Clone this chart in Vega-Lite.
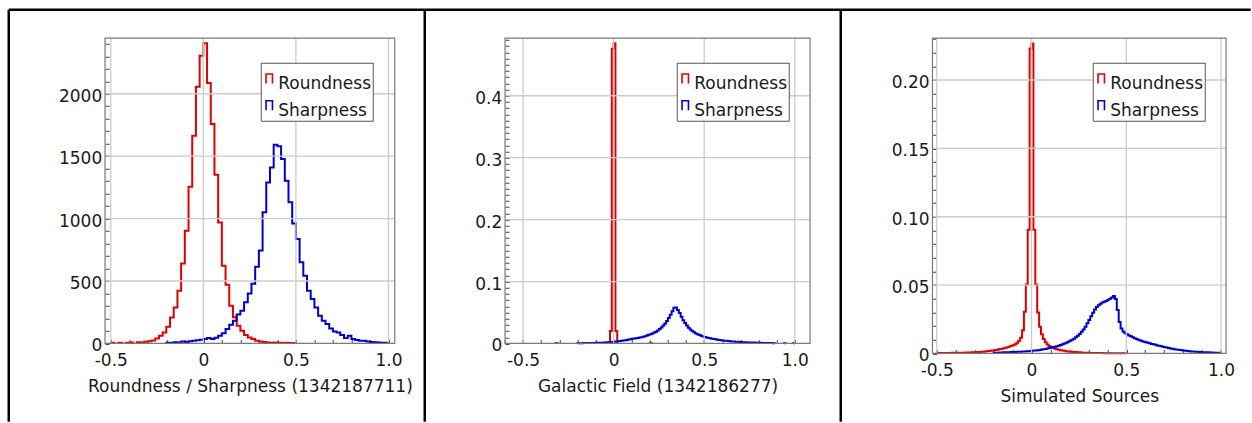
{
  "$schema": "https://vega.github.io/schema/vega-lite/v6.json",
  "background": "white",
  "padding": {"left": 6.75, "top": 7.75, "right": 0, "bottom": 0},
  "bounds": "flush",
  "spacing": 0,
  "resolve": {"scale": {"color": "independent"}, "legend": {"color": "independent"}},
  "config": {
    "font": "DejaVu Sans",
    "axis": {
      "labelFont": "DejaVu Sans", "labelFontSize": 17, "labelColor": "#1a1a1a",
      "titleFont": "DejaVu Sans", "titleFontSize": 17, "titleFontWeight": "normal", "titleColor": "#1a1a1a",
      "tickColor": "#444444", "tickWidth": 1, "tickSize": -4,
      "labelOverlap": false, "labelFlush": false, "domain": false, "grid": false, "zindex": 1
    },
    "legend": {
      "orient": "none", "legendX": 252, "legendY": 53,
      "titleFontSize": 4, "titlePadding": 1,
      "fillColor": "white", "strokeColor": "#555555", "padding": 1.5, "rowPadding": 3.7,
      "labelFont": "DejaVu Sans", "labelFontSize": 17, "labelColor": "#1a1a1a", "labelOffset": 0.5,
      "symbolType": "M-0.8,1.425V-0.925H0.8V1.425", "symbolSize": 64, "symbolStrokeWidth": 1.6,
      "symbolOffset": -1.5, "symbolFillColor": "transparent"
    }
  },
  "hconcat": [
    {
      "width": 416, "height": 412,
      "view": {"stroke": "#000000", "strokeWidth": 2.5, "strokeDash": [416, 828, 412, 0]},
      "resolve": {"axis": {"x": "independent", "y": "independent"}},
      "data": {"values": [
        {"s":"Roundness","g":1,"x":-0.5,"y":0},{"s":"Roundness","g":1,"x":-0.5,"y":5},{"s":"Roundness","g":1,"x":-0.48,"y":0},
        {"s":"Roundness","g":2,"x":-0.46,"y":0},{"s":"Roundness","g":2,"x":-0.46,"y":6},{"s":"Roundness","g":2,"x":-0.44,"y":0},
        {"s":"Roundness","g":3,"x":-0.42,"y":0},{"s":"Roundness","g":3,"x":-0.42,"y":5},{"s":"Roundness","g":3,"x":-0.4,"y":8},{"s":"Roundness","g":3,"x":-0.38,"y":0},
        {"s":"Roundness","g":4,"x":-0.36,"y":0},{"s":"Roundness","g":4,"x":-0.36,"y":10},{"s":"Roundness","g":4,"x":-0.34,"y":8},
        {"s":"Roundness","g":4,"x":-0.32,"y":14},{"s":"Roundness","g":4,"x":-0.3,"y":17},{"s":"Roundness","g":4,"x":-0.28,"y":24},
        {"s":"Roundness","g":4,"x":-0.26,"y":40},{"s":"Roundness","g":4,"x":-0.24,"y":62},{"s":"Roundness","g":4,"x":-0.22,"y":88},
        {"s":"Roundness","g":4,"x":-0.2,"y":134},{"s":"Roundness","g":4,"x":-0.18,"y":208},{"s":"Roundness","g":4,"x":-0.16,"y":288},
        {"s":"Roundness","g":4,"x":-0.14,"y":422},{"s":"Roundness","g":4,"x":-0.12,"y":641},{"s":"Roundness","g":4,"x":-0.1,"y":903},
        {"s":"Roundness","g":4,"x":-0.08,"y":1255},{"s":"Roundness","g":4,"x":-0.06,"y":1664},{"s":"Roundness","g":4,"x":-0.04,"y":2056},
        {"s":"Roundness","g":4,"x":-0.02,"y":2305},{"s":"Roundness","g":4,"x":0,"y":2404},{"s":"Roundness","g":4,"x":0.02,"y":2085},
        {"s":"Roundness","g":4,"x":0.04,"y":1757},{"s":"Roundness","g":4,"x":0.06,"y":1351},{"s":"Roundness","g":4,"x":0.08,"y":969},
        {"s":"Roundness","g":4,"x":0.1,"y":622},{"s":"Roundness","g":4,"x":0.12,"y":470},{"s":"Roundness","g":4,"x":0.14,"y":302},
        {"s":"Roundness","g":4,"x":0.16,"y":209},{"s":"Roundness","g":4,"x":0.18,"y":142},{"s":"Roundness","g":4,"x":0.2,"y":102},
        {"s":"Roundness","g":4,"x":0.22,"y":67},{"s":"Roundness","g":4,"x":0.24,"y":48},{"s":"Roundness","g":4,"x":0.26,"y":35},
        {"s":"Roundness","g":4,"x":0.28,"y":22},{"s":"Roundness","g":4,"x":0.3,"y":15},{"s":"Roundness","g":4,"x":0.32,"y":12},
        {"s":"Roundness","g":4,"x":0.34,"y":8},{"s":"Roundness","g":4,"x":0.36,"y":6},{"s":"Roundness","g":4,"x":0.38,"y":8},
        {"s":"Roundness","g":4,"x":0.4,"y":5},{"s":"Roundness","g":4,"x":0.42,"y":4},{"s":"Roundness","g":4,"x":0.44,"y":6},
        {"s":"Roundness","g":4,"x":0.46,"y":3},{"s":"Roundness","g":4,"x":0.48,"y":4},{"s":"Roundness","g":4,"x":0.5,"y":0},
        {"s":"Sharpness","g":5,"x":-0.2,"y":0},{"s":"Sharpness","g":5,"x":-0.2,"y":5},{"s":"Sharpness","g":5,"x":-0.18,"y":6},
        {"s":"Sharpness","g":5,"x":-0.16,"y":10},{"s":"Sharpness","g":5,"x":-0.14,"y":8},{"s":"Sharpness","g":5,"x":-0.12,"y":15},
        {"s":"Sharpness","g":5,"x":-0.1,"y":12},{"s":"Sharpness","g":5,"x":-0.08,"y":18},{"s":"Sharpness","g":5,"x":-0.06,"y":22},
        {"s":"Sharpness","g":5,"x":-0.04,"y":25},{"s":"Sharpness","g":5,"x":-0.02,"y":30},{"s":"Sharpness","g":5,"x":0,"y":35},
        {"s":"Sharpness","g":5,"x":0.02,"y":43},{"s":"Sharpness","g":5,"x":0.04,"y":35},{"s":"Sharpness","g":5,"x":0.06,"y":45},
        {"s":"Sharpness","g":5,"x":0.08,"y":62},{"s":"Sharpness","g":5,"x":0.1,"y":82},{"s":"Sharpness","g":5,"x":0.12,"y":115},
        {"s":"Sharpness","g":5,"x":0.14,"y":150},{"s":"Sharpness","g":5,"x":0.16,"y":182},{"s":"Sharpness","g":5,"x":0.18,"y":232},
        {"s":"Sharpness","g":5,"x":0.2,"y":262},{"s":"Sharpness","g":5,"x":0.22,"y":330},{"s":"Sharpness","g":5,"x":0.24,"y":400},
        {"s":"Sharpness","g":5,"x":0.26,"y":478},{"s":"Sharpness","g":5,"x":0.28,"y":614},{"s":"Sharpness","g":5,"x":0.3,"y":745},
        {"s":"Sharpness","g":5,"x":0.32,"y":1050},{"s":"Sharpness","g":5,"x":0.34,"y":1290},{"s":"Sharpness","g":5,"x":0.36,"y":1410},
        {"s":"Sharpness","g":5,"x":0.38,"y":1592},{"s":"Sharpness","g":5,"x":0.4,"y":1580},{"s":"Sharpness","g":5,"x":0.42,"y":1477},
        {"s":"Sharpness","g":5,"x":0.44,"y":1303},{"s":"Sharpness","g":5,"x":0.46,"y":1130},{"s":"Sharpness","g":5,"x":0.48,"y":960},
        {"s":"Sharpness","g":5,"x":0.5,"y":836},{"s":"Sharpness","g":5,"x":0.52,"y":650},{"s":"Sharpness","g":5,"x":0.54,"y":542},
        {"s":"Sharpness","g":5,"x":0.56,"y":422},{"s":"Sharpness","g":5,"x":0.58,"y":356},{"s":"Sharpness","g":5,"x":0.6,"y":288},
        {"s":"Sharpness","g":5,"x":0.62,"y":222},{"s":"Sharpness","g":5,"x":0.64,"y":182},{"s":"Sharpness","g":5,"x":0.66,"y":155},
        {"s":"Sharpness","g":5,"x":0.68,"y":120},{"s":"Sharpness","g":5,"x":0.7,"y":96},{"s":"Sharpness","g":5,"x":0.72,"y":88},
        {"s":"Sharpness","g":5,"x":0.74,"y":67},{"s":"Sharpness","g":5,"x":0.76,"y":43},{"s":"Sharpness","g":5,"x":0.78,"y":62},
        {"s":"Sharpness","g":5,"x":0.8,"y":35},{"s":"Sharpness","g":5,"x":0.82,"y":27},{"s":"Sharpness","g":5,"x":0.84,"y":22},
        {"s":"Sharpness","g":5,"x":0.86,"y":22},{"s":"Sharpness","g":5,"x":0.88,"y":15},{"s":"Sharpness","g":5,"x":0.9,"y":12},
        {"s":"Sharpness","g":5,"x":0.92,"y":10},{"s":"Sharpness","g":5,"x":0.94,"y":8},{"s":"Sharpness","g":5,"x":0.96,"y":6},
        {"s":"Sharpness","g":5,"x":0.98,"y":5},{"s":"Sharpness","g":5,"x":1,"y":0}
      ]},
      "layer": [
        {
          "mark": {"type": "line", "interpolate": "step-after", "strokeWidth": 2, "strokeJoin": "miter"},
          "encoding": {
            "x": {
              "field": "x", "type": "quantitative",
              "scale": {"domain": [-0.531, 1.034], "range": [96.3, 386], "nice": false, "zero": false},
              "axis": {
                "orient": "bottom", "values": [-0.5, 0, 0.5, 1],
                "labelExpr": "datum.value == 0 ? '0' : (datum.value < 0 ? '-' : '') + format(abs(datum.value), '.1f')",
                "offset": -78.3, "labelPadding": 13.3,
                "title": "Roundness / Sharpness (1342187711)", "titlePadding": 10
              }
            },
            "y": {
              "field": "y", "type": "quantitative",
              "scale": {"domain": [0, 2446], "range": [333.7, 28.3], "nice": false},
              "axis": {
                "orient": "left", "values": [0, 500, 1000, 1500, 2000],
                "labelExpr": "format(datum.value, 'd')",
                "offset": -96.3, "labelPadding": 7.3, "labelOffset": 2.5, "title": null
              }
            },
            "color": {
              "field": "s", "type": "nominal",
              "scale": {"domain": ["Roundness", "Sharpness"], "range": ["#e00000", "#0000cc"]},
              "legend": {"title": " ", "labelExpr": "datum.label + ' '", "encoding": {"labels": {"dy": {"value": 6.3}}}}
            },
            "detail": {"field": "g", "type": "nominal"}
          }
        },
        {
          "data": {"values": [{"v": -0.5}, {"v": 0}, {"v": 0.5}, {"v": 1}]},
          "mark": {"type": "rule", "color": "#cccccc", "strokeWidth": 1.3},
          "encoding": {
            "x": {"field": "v", "type": "quantitative", "axis": {
              "orient": "bottom", "offset": -78.3, "labels": false, "title": null,
              "values": [-0.5,-0.4,-0.3,-0.2,-0.1,0,0.1,0.2,0.3,0.4,0.5,0.6,0.7,0.8,0.9,1]}},
            "y": {"datum": 0, "type": "quantitative", "axis": null},
            "y2": {"datum": 2446}
          }
        },
        {
          "data": {"values": [{"v": 500}, {"v": 1000}, {"v": 1500}, {"v": 2000}]},
          "mark": {"type": "rule", "color": "#cccccc", "strokeWidth": 1.3},
          "encoding": {
            "y": {"field": "v", "type": "quantitative", "axis": {
              "orient": "left", "offset": -96.3, "labels": false, "title": null,
              "values": [0,100,200,300,400,500,600,700,800,900,1000,1100,1200,1300,1400,1500,1600,1700,1800,1900,2000,2100,2200,2300,2400]}},
            "x": {"datum": -0.531, "type": "quantitative", "axis": null},
            "x2": {"datum": 1.034}
          }
        },
        {
          "data": {"values": [{}]},
          "mark": {"type": "rect", "filled": false, "color": "#7a7a7a", "strokeWidth": 1.2},
          "encoding": {
            "x": {"datum": -0.531, "type": "quantitative", "axis": null},
            "x2": {"datum": 1.034},
            "y": {"datum": 0, "type": "quantitative", "axis": null},
            "y2": {"datum": 2446}
          }
        }
      ]
    },
    {
      "width": 416, "height": 412,
      "view": {"stroke": "#000000", "strokeWidth": 2.5, "strokeDash": [416, 828, 412, 0]},
      "resolve": {"axis": {"x": "independent", "y": "independent"}},
      "data": {"values": [
        {"s":"Roundness","g":1,"x":-0.32,"y":0},{"s":"Roundness","g":1,"x":-0.32,"y":0.0007},{"s":"Roundness","g":1,"x":-0.31,"y":0},
        {"s":"Roundness","g":2,"x":-0.02,"y":0},{"s":"Roundness","g":2,"x":-0.02,"y":0.02},{"s":"Roundness","g":2,"x":-0.01,"y":0.476},
        {"s":"Roundness","g":2,"x":0,"y":0.485},{"s":"Roundness","g":2,"x":0.01,"y":0.02},{"s":"Roundness","g":2,"x":0.02,"y":0},
        {"s":"Roundness","g":3,"x":0.2,"y":0},{"s":"Roundness","g":3,"x":0.2,"y":0.0007},{"s":"Roundness","g":3,"x":0.21,"y":0},
        {"s":"Sharpness","g":4,"x":-0.2,"y":0},
        {"s":"Sharpness","g":4,"x":-0.2,"y":0.0004},{"s":"Sharpness","g":4,"x":-0.19,"y":0.0005},{"s":"Sharpness","g":4,"x":-0.18,"y":0.0005},
        {"s":"Sharpness","g":4,"x":-0.17,"y":0.0006},{"s":"Sharpness","g":4,"x":-0.16,"y":0.0006},{"s":"Sharpness","g":4,"x":-0.15,"y":0.0007},
        {"s":"Sharpness","g":4,"x":-0.14,"y":0.0007},{"s":"Sharpness","g":4,"x":-0.13,"y":0.0008},{"s":"Sharpness","g":4,"x":-0.12,"y":0.0008},
        {"s":"Sharpness","g":4,"x":-0.11,"y":0.0009},{"s":"Sharpness","g":4,"x":-0.1,"y":0.001},{"s":"Sharpness","g":4,"x":-0.09,"y":0.0011},
        {"s":"Sharpness","g":4,"x":-0.08,"y":0.0012},{"s":"Sharpness","g":4,"x":-0.07,"y":0.0013},{"s":"Sharpness","g":4,"x":-0.06,"y":0.0014},
        {"s":"Sharpness","g":4,"x":-0.05,"y":0.0016},{"s":"Sharpness","g":4,"x":-0.04,"y":0.0018},{"s":"Sharpness","g":4,"x":-0.03,"y":0.002},
        {"s":"Sharpness","g":4,"x":-0.02,"y":0.0022},{"s":"Sharpness","g":4,"x":-0.01,"y":0.0025},{"s":"Sharpness","g":4,"x":0,"y":0.0028},
        {"s":"Sharpness","g":4,"x":0.01,"y":0.0031},{"s":"Sharpness","g":4,"x":0.02,"y":0.0035},{"s":"Sharpness","g":4,"x":0.03,"y":0.0038},
        {"s":"Sharpness","g":4,"x":0.04,"y":0.0042},{"s":"Sharpness","g":4,"x":0.05,"y":0.0046},{"s":"Sharpness","g":4,"x":0.06,"y":0.0051},
        {"s":"Sharpness","g":4,"x":0.07,"y":0.0056},{"s":"Sharpness","g":4,"x":0.08,"y":0.0062},{"s":"Sharpness","g":4,"x":0.09,"y":0.0068},
        {"s":"Sharpness","g":4,"x":0.1,"y":0.0075},{"s":"Sharpness","g":4,"x":0.11,"y":0.008},{"s":"Sharpness","g":4,"x":0.12,"y":0.0085},
        {"s":"Sharpness","g":4,"x":0.13,"y":0.009},{"s":"Sharpness","g":4,"x":0.14,"y":0.0096},{"s":"Sharpness","g":4,"x":0.15,"y":0.0102},
        {"s":"Sharpness","g":4,"x":0.16,"y":0.011},{"s":"Sharpness","g":4,"x":0.17,"y":0.0118},{"s":"Sharpness","g":4,"x":0.18,"y":0.0128},
        {"s":"Sharpness","g":4,"x":0.19,"y":0.0139},{"s":"Sharpness","g":4,"x":0.2,"y":0.015},{"s":"Sharpness","g":4,"x":0.21,"y":0.016},
        {"s":"Sharpness","g":4,"x":0.22,"y":0.0175},{"s":"Sharpness","g":4,"x":0.23,"y":0.019},{"s":"Sharpness","g":4,"x":0.24,"y":0.021},
        {"s":"Sharpness","g":4,"x":0.25,"y":0.0232},{"s":"Sharpness","g":4,"x":0.26,"y":0.0258},{"s":"Sharpness","g":4,"x":0.27,"y":0.0288},
        {"s":"Sharpness","g":4,"x":0.28,"y":0.0322},{"s":"Sharpness","g":4,"x":0.29,"y":0.0362},{"s":"Sharpness","g":4,"x":0.3,"y":0.041},
        {"s":"Sharpness","g":4,"x":0.31,"y":0.0465},{"s":"Sharpness","g":4,"x":0.32,"y":0.052},{"s":"Sharpness","g":4,"x":0.33,"y":0.0575},
        {"s":"Sharpness","g":4,"x":0.34,"y":0.0582},{"s":"Sharpness","g":4,"x":0.35,"y":0.054},{"s":"Sharpness","g":4,"x":0.36,"y":0.049},
        {"s":"Sharpness","g":4,"x":0.37,"y":0.043},{"s":"Sharpness","g":4,"x":0.38,"y":0.0375},{"s":"Sharpness","g":4,"x":0.39,"y":0.033},
        {"s":"Sharpness","g":4,"x":0.4,"y":0.029},{"s":"Sharpness","g":4,"x":0.41,"y":0.0255},{"s":"Sharpness","g":4,"x":0.42,"y":0.0225},
        {"s":"Sharpness","g":4,"x":0.43,"y":0.02},{"s":"Sharpness","g":4,"x":0.44,"y":0.018},{"s":"Sharpness","g":4,"x":0.45,"y":0.0162},
        {"s":"Sharpness","g":4,"x":0.46,"y":0.0147},{"s":"Sharpness","g":4,"x":0.47,"y":0.0135},{"s":"Sharpness","g":4,"x":0.48,"y":0.0124},
        {"s":"Sharpness","g":4,"x":0.49,"y":0.0114},{"s":"Sharpness","g":4,"x":0.5,"y":0.0105},{"s":"Sharpness","g":4,"x":0.51,"y":0.0097},
        {"s":"Sharpness","g":4,"x":0.52,"y":0.009},{"s":"Sharpness","g":4,"x":0.53,"y":0.0083},{"s":"Sharpness","g":4,"x":0.54,"y":0.0077},
        {"s":"Sharpness","g":4,"x":0.55,"y":0.0071},{"s":"Sharpness","g":4,"x":0.56,"y":0.0066},{"s":"Sharpness","g":4,"x":0.57,"y":0.0061},
        {"s":"Sharpness","g":4,"x":0.58,"y":0.0057},{"s":"Sharpness","g":4,"x":0.59,"y":0.0053},{"s":"Sharpness","g":4,"x":0.6,"y":0.0049},
        {"s":"Sharpness","g":4,"x":0.61,"y":0.0045},{"s":"Sharpness","g":4,"x":0.62,"y":0.0042},{"s":"Sharpness","g":4,"x":0.63,"y":0.0039},
        {"s":"Sharpness","g":4,"x":0.64,"y":0.0036},{"s":"Sharpness","g":4,"x":0.65,"y":0.0033},{"s":"Sharpness","g":4,"x":0.66,"y":0.0031},
        {"s":"Sharpness","g":4,"x":0.67,"y":0.0029},{"s":"Sharpness","g":4,"x":0.68,"y":0.0027},{"s":"Sharpness","g":4,"x":0.69,"y":0.0025},
        {"s":"Sharpness","g":4,"x":0.7,"y":0.0023},{"s":"Sharpness","g":4,"x":0.71,"y":0.0021},{"s":"Sharpness","g":4,"x":0.72,"y":0.002},
        {"s":"Sharpness","g":4,"x":0.73,"y":0.0018},{"s":"Sharpness","g":4,"x":0.74,"y":0.0017},{"s":"Sharpness","g":4,"x":0.75,"y":0.0016},
        {"s":"Sharpness","g":4,"x":0.76,"y":0.0015},{"s":"Sharpness","g":4,"x":0.77,"y":0.0014},{"s":"Sharpness","g":4,"x":0.78,"y":0.0013},
        {"s":"Sharpness","g":4,"x":0.79,"y":0.0012},{"s":"Sharpness","g":4,"x":0.8,"y":0.0011},{"s":"Sharpness","g":4,"x":0.81,"y":0.001},
        {"s":"Sharpness","g":4,"x":0.82,"y":0.0009},{"s":"Sharpness","g":4,"x":0.83,"y":0.0009},{"s":"Sharpness","g":4,"x":0.84,"y":0.0008},
        {"s":"Sharpness","g":4,"x":0.85,"y":0.0007},{"s":"Sharpness","g":4,"x":0.86,"y":0.0007},{"s":"Sharpness","g":4,"x":0.87,"y":0.0006},
        {"s":"Sharpness","g":4,"x":0.88,"y":0.0005},{"s":"Sharpness","g":4,"x":0.89,"y":0},
        {"s":"Sharpness","g":5,"x":0.94,"y":0},{"s":"Sharpness","g":5,"x":0.94,"y":0.0005},{"s":"Sharpness","g":5,"x":0.95,"y":0},
        {"s":"Sharpness","g":6,"x":0.99,"y":0},{"s":"Sharpness","g":6,"x":0.99,"y":0.0005},{"s":"Sharpness","g":6,"x":1,"y":0}
      ]},
      "layer": [
        {
          "mark": {"type": "line", "interpolate": "step-after", "strokeWidth": 2, "strokeJoin": "miter"},
          "encoding": {
            "x": {
              "field": "x", "type": "quantitative",
              "scale": {"domain": [-0.5994, 1.0845], "range": [80.3, 385.3], "nice": false, "zero": false},
              "axis": {
                "orient": "bottom", "values": [-0.5, 0, 0.5, 1],
                "labelExpr": "datum.value == 0 ? '0' : (datum.value < 0 ? '-' : '') + format(abs(datum.value), '.1f')",
                "offset": -78.3, "labelPadding": 13.3,
                "title": "Galactic Field (1342186277)", "titlePadding": 10
              }
            },
            "y": {
              "field": "y", "type": "quantitative",
              "scale": {"domain": [0, 0.4932], "range": [333.7, 28.3], "nice": false},
              "axis": {
                "orient": "left", "values": [0, 0.1, 0.2, 0.3, 0.4],
                "labelExpr": "datum.value == 0 ? '0' : format(datum.value, '.1f')",
                "offset": -80.3, "labelPadding": 7.3, "labelOffset": 2.5, "title": null
              }
            },
            "color": {
              "field": "s", "type": "nominal",
              "scale": {"domain": ["Roundness", "Sharpness"], "range": ["#e00000", "#0000cc"]},
              "legend": {"title": " ", "labelExpr": "datum.label + ' '", "encoding": {"labels": {"dy": {"value": 6.3}}}}
            },
            "detail": {"field": "g", "type": "nominal"}
          }
        },
        {
          "data": {"values": [{"v": -0.5}, {"v": 0}, {"v": 0.5}, {"v": 1}]},
          "mark": {"type": "rule", "color": "#cccccc", "strokeWidth": 1.3},
          "encoding": {
            "x": {"field": "v", "type": "quantitative", "axis": {
              "orient": "bottom", "offset": -78.3, "labels": false, "title": null,
              "values": [-0.6,-0.5,-0.4,-0.3,-0.2,-0.1,0,0.1,0.2,0.3,0.4,0.5,0.6,0.7,0.8,0.9,1]}},
            "y": {"datum": 0, "type": "quantitative", "axis": null},
            "y2": {"datum": 0.4932}
          }
        },
        {
          "data": {"values": [{"v": 0.1}, {"v": 0.2}, {"v": 0.3}, {"v": 0.4}]},
          "mark": {"type": "rule", "color": "#cccccc", "strokeWidth": 1.3},
          "encoding": {
            "y": {"field": "v", "type": "quantitative", "axis": {
              "orient": "left", "offset": -80.3, "labels": false, "title": null,
              "values": [0,0.01,0.02,0.03,0.04,0.05,0.06,0.07,0.08,0.09,0.1,0.11,0.12,0.13,0.14,0.15,0.16,0.17,0.18,0.19,0.2,0.21,0.22,0.23,0.24,0.25,0.26,0.27,0.28,0.29,0.3,0.31,0.32,0.33,0.34,0.35,0.36,0.37,0.38,0.39,0.4,0.41,0.42,0.43,0.44,0.45,0.46,0.47,0.48,0.49]}},
            "x": {"datum": -0.5994, "type": "quantitative", "axis": null},
            "x2": {"datum": 1.0845}
          }
        },
        {
          "data": {"values": [{}]},
          "mark": {"type": "rect", "filled": false, "color": "#7a7a7a", "strokeWidth": 1.2},
          "encoding": {
            "x": {"datum": -0.5994, "type": "quantitative", "axis": null},
            "x2": {"datum": 1.0845},
            "y": {"datum": 0, "type": "quantitative", "axis": null},
            "y2": {"datum": 0.4932}
          }
        }
      ]
    },
    {
      "width": 410, "height": 412,
      "view": {"stroke": "#000000", "strokeWidth": 2.5, "strokeDash": [410, 822, 412, 0]},
      "resolve": {"axis": {"x": "independent", "y": "independent"}},
      "data": {"values": [
        {"s":"Roundness","g":1,"x":-0.5,"y":0},
        {"s":"Roundness","g":1,"x":-0.5,"y":0.0003},{"s":"Roundness","g":1,"x":-0.49,"y":0.0003},{"s":"Roundness","g":1,"x":-0.48,"y":0.0004},
        {"s":"Roundness","g":1,"x":-0.47,"y":0.0003},{"s":"Roundness","g":1,"x":-0.46,"y":0.0004},{"s":"Roundness","g":1,"x":-0.45,"y":0.0004},
        {"s":"Roundness","g":1,"x":-0.44,"y":0.0003},{"s":"Roundness","g":1,"x":-0.43,"y":0.0004},{"s":"Roundness","g":1,"x":-0.42,"y":0.0005},
        {"s":"Roundness","g":1,"x":-0.41,"y":0.0004},{"s":"Roundness","g":1,"x":-0.4,"y":0.0005},{"s":"Roundness","g":1,"x":-0.39,"y":0.0005},
        {"s":"Roundness","g":1,"x":-0.38,"y":0.0006},{"s":"Roundness","g":1,"x":-0.37,"y":0.0005},{"s":"Roundness","g":1,"x":-0.36,"y":0.0006},
        {"s":"Roundness","g":1,"x":-0.35,"y":0.0007},{"s":"Roundness","g":1,"x":-0.34,"y":0.0006},{"s":"Roundness","g":1,"x":-0.33,"y":0.0007},
        {"s":"Roundness","g":1,"x":-0.32,"y":0.0008},{"s":"Roundness","g":1,"x":-0.31,"y":0.0008},{"s":"Roundness","g":1,"x":-0.3,"y":0.0009},
        {"s":"Roundness","g":1,"x":-0.29,"y":0.001},{"s":"Roundness","g":1,"x":-0.28,"y":0.0011},{"s":"Roundness","g":1,"x":-0.27,"y":0.0012},
        {"s":"Roundness","g":1,"x":-0.26,"y":0.0013},{"s":"Roundness","g":1,"x":-0.25,"y":0.0015},{"s":"Roundness","g":1,"x":-0.24,"y":0.0016},
        {"s":"Roundness","g":1,"x":-0.23,"y":0.0018},{"s":"Roundness","g":1,"x":-0.22,"y":0.002},{"s":"Roundness","g":1,"x":-0.21,"y":0.0022},
        {"s":"Roundness","g":1,"x":-0.2,"y":0.0024},{"s":"Roundness","g":1,"x":-0.19,"y":0.0026},{"s":"Roundness","g":1,"x":-0.18,"y":0.0029},
        {"s":"Roundness","g":1,"x":-0.17,"y":0.0032},{"s":"Roundness","g":1,"x":-0.16,"y":0.0035},{"s":"Roundness","g":1,"x":-0.15,"y":0.0038},
        {"s":"Roundness","g":1,"x":-0.14,"y":0.0042},{"s":"Roundness","g":1,"x":-0.13,"y":0.0046},{"s":"Roundness","g":1,"x":-0.12,"y":0.0051},
        {"s":"Roundness","g":1,"x":-0.11,"y":0.0056},{"s":"Roundness","g":1,"x":-0.1,"y":0.006},{"s":"Roundness","g":1,"x":-0.09,"y":0.0068},
        {"s":"Roundness","g":1,"x":-0.08,"y":0.0078},{"s":"Roundness","g":1,"x":-0.07,"y":0.0092},{"s":"Roundness","g":1,"x":-0.06,"y":0.0115},
        {"s":"Roundness","g":1,"x":-0.05,"y":0.017},{"s":"Roundness","g":1,"x":-0.04,"y":0.0305},{"s":"Roundness","g":1,"x":-0.03,"y":0.0505},
        {"s":"Roundness","g":1,"x":-0.02,"y":0.0905},{"s":"Roundness","g":1,"x":-0.01,"y":0.223},{"s":"Roundness","g":1,"x":0,"y":0.2268},
        {"s":"Roundness","g":1,"x":0.01,"y":0.0905},{"s":"Roundness","g":1,"x":0.02,"y":0.0505},{"s":"Roundness","g":1,"x":0.03,"y":0.03},
        {"s":"Roundness","g":1,"x":0.04,"y":0.0195},{"s":"Roundness","g":1,"x":0.05,"y":0.014},{"s":"Roundness","g":1,"x":0.06,"y":0.0105},
        {"s":"Roundness","g":1,"x":0.07,"y":0.0082},{"s":"Roundness","g":1,"x":0.08,"y":0.0066},{"s":"Roundness","g":1,"x":0.09,"y":0.0055},
        {"s":"Roundness","g":1,"x":0.1,"y":0.0046},{"s":"Roundness","g":1,"x":0.11,"y":0.004},{"s":"Roundness","g":1,"x":0.12,"y":0.0035},
        {"s":"Roundness","g":1,"x":0.13,"y":0.0031},{"s":"Roundness","g":1,"x":0.14,"y":0.0027},{"s":"Roundness","g":1,"x":0.15,"y":0.0024},
        {"s":"Roundness","g":1,"x":0.16,"y":0.0021},{"s":"Roundness","g":1,"x":0.17,"y":0.0019},{"s":"Roundness","g":1,"x":0.18,"y":0.0017},
        {"s":"Roundness","g":1,"x":0.19,"y":0.0015},{"s":"Roundness","g":1,"x":0.2,"y":0.0013},{"s":"Roundness","g":1,"x":0.21,"y":0.0012},
        {"s":"Roundness","g":1,"x":0.22,"y":0.0011},{"s":"Roundness","g":1,"x":0.23,"y":0.001},{"s":"Roundness","g":1,"x":0.24,"y":0.0009},
        {"s":"Roundness","g":1,"x":0.25,"y":0.0008},{"s":"Roundness","g":1,"x":0.26,"y":0.0007},{"s":"Roundness","g":1,"x":0.27,"y":0.0006},
        {"s":"Roundness","g":1,"x":0.28,"y":0.0006},{"s":"Roundness","g":1,"x":0.29,"y":0.0005},{"s":"Roundness","g":1,"x":0.3,"y":0.0005},
        {"s":"Roundness","g":1,"x":0.31,"y":0.0004},{"s":"Roundness","g":1,"x":0.32,"y":0.0004},{"s":"Roundness","g":1,"x":0.33,"y":0.0004},
        {"s":"Roundness","g":1,"x":0.34,"y":0.0003},{"s":"Roundness","g":1,"x":0.35,"y":0.0003},{"s":"Roundness","g":1,"x":0.36,"y":0.0003},
        {"s":"Roundness","g":1,"x":0.37,"y":0.0003},{"s":"Roundness","g":1,"x":0.38,"y":0.0002},{"s":"Roundness","g":1,"x":0.39,"y":0.0002},
        {"s":"Roundness","g":1,"x":0.4,"y":0.0002},{"s":"Roundness","g":1,"x":0.41,"y":0.0002},{"s":"Roundness","g":1,"x":0.42,"y":0.0002},
        {"s":"Roundness","g":1,"x":0.43,"y":0.0002},{"s":"Roundness","g":1,"x":0.44,"y":0.0001},{"s":"Roundness","g":1,"x":0.45,"y":0.0001},
        {"s":"Roundness","g":1,"x":0.46,"y":0.0001},{"s":"Roundness","g":1,"x":0.47,"y":0.0001},{"s":"Roundness","g":1,"x":0.48,"y":0.0001},
        {"s":"Roundness","g":1,"x":0.49,"y":0.0001},{"s":"Roundness","g":1,"x":0.5,"y":0},
        {"s":"Sharpness","g":2,"x":-0.2,"y":0},
        {"s":"Sharpness","g":2,"x":-0.2,"y":0.0005},{"s":"Sharpness","g":2,"x":-0.19,"y":0.0006},{"s":"Sharpness","g":2,"x":-0.18,"y":0.0006},
        {"s":"Sharpness","g":2,"x":-0.17,"y":0.0007},{"s":"Sharpness","g":2,"x":-0.16,"y":0.0007},{"s":"Sharpness","g":2,"x":-0.15,"y":0.0008},
        {"s":"Sharpness","g":2,"x":-0.14,"y":0.0008},{"s":"Sharpness","g":2,"x":-0.13,"y":0.0009},{"s":"Sharpness","g":2,"x":-0.12,"y":0.0009},
        {"s":"Sharpness","g":2,"x":-0.11,"y":0.001},{"s":"Sharpness","g":2,"x":-0.1,"y":0.001},{"s":"Sharpness","g":2,"x":-0.09,"y":0.0011},
        {"s":"Sharpness","g":2,"x":-0.08,"y":0.0012},{"s":"Sharpness","g":2,"x":-0.07,"y":0.0012},{"s":"Sharpness","g":2,"x":-0.06,"y":0.0013},
        {"s":"Sharpness","g":2,"x":-0.05,"y":0.0014},{"s":"Sharpness","g":2,"x":-0.04,"y":0.0015},{"s":"Sharpness","g":2,"x":-0.03,"y":0.0016},
        {"s":"Sharpness","g":2,"x":-0.02,"y":0.0017},{"s":"Sharpness","g":2,"x":-0.01,"y":0.0018},{"s":"Sharpness","g":2,"x":0,"y":0.0019},
        {"s":"Sharpness","g":2,"x":0.01,"y":0.0021},{"s":"Sharpness","g":2,"x":0.02,"y":0.0022},{"s":"Sharpness","g":2,"x":0.03,"y":0.0024},
        {"s":"Sharpness","g":2,"x":0.04,"y":0.0026},{"s":"Sharpness","g":2,"x":0.05,"y":0.0028},{"s":"Sharpness","g":2,"x":0.06,"y":0.003},
        {"s":"Sharpness","g":2,"x":0.07,"y":0.0033},{"s":"Sharpness","g":2,"x":0.08,"y":0.0036},{"s":"Sharpness","g":2,"x":0.09,"y":0.0039},
        {"s":"Sharpness","g":2,"x":0.1,"y":0.0043},{"s":"Sharpness","g":2,"x":0.11,"y":0.0046},{"s":"Sharpness","g":2,"x":0.12,"y":0.0049},
        {"s":"Sharpness","g":2,"x":0.13,"y":0.0053},{"s":"Sharpness","g":2,"x":0.14,"y":0.0057},{"s":"Sharpness","g":2,"x":0.15,"y":0.0062},
        {"s":"Sharpness","g":2,"x":0.16,"y":0.0067},{"s":"Sharpness","g":2,"x":0.17,"y":0.0072},{"s":"Sharpness","g":2,"x":0.18,"y":0.0078},
        {"s":"Sharpness","g":2,"x":0.19,"y":0.0085},{"s":"Sharpness","g":2,"x":0.2,"y":0.0092},{"s":"Sharpness","g":2,"x":0.21,"y":0.01},
        {"s":"Sharpness","g":2,"x":0.22,"y":0.0108},{"s":"Sharpness","g":2,"x":0.23,"y":0.0118},{"s":"Sharpness","g":2,"x":0.24,"y":0.013},
        {"s":"Sharpness","g":2,"x":0.25,"y":0.0142},{"s":"Sharpness","g":2,"x":0.26,"y":0.0158},{"s":"Sharpness","g":2,"x":0.27,"y":0.0175},
        {"s":"Sharpness","g":2,"x":0.28,"y":0.0196},{"s":"Sharpness","g":2,"x":0.29,"y":0.022},{"s":"Sharpness","g":2,"x":0.3,"y":0.0245},
        {"s":"Sharpness","g":2,"x":0.31,"y":0.0272},{"s":"Sharpness","g":2,"x":0.32,"y":0.0298},{"s":"Sharpness","g":2,"x":0.33,"y":0.0322},
        {"s":"Sharpness","g":2,"x":0.34,"y":0.034},{"s":"Sharpness","g":2,"x":0.35,"y":0.0352},{"s":"Sharpness","g":2,"x":0.36,"y":0.0364},
        {"s":"Sharpness","g":2,"x":0.37,"y":0.0372},{"s":"Sharpness","g":2,"x":0.38,"y":0.0378},{"s":"Sharpness","g":2,"x":0.39,"y":0.0384},
        {"s":"Sharpness","g":2,"x":0.4,"y":0.0392},{"s":"Sharpness","g":2,"x":0.41,"y":0.04},{"s":"Sharpness","g":2,"x":0.42,"y":0.041},
        {"s":"Sharpness","g":2,"x":0.43,"y":0.0421},{"s":"Sharpness","g":2,"x":0.44,"y":0.0398},{"s":"Sharpness","g":2,"x":0.45,"y":0.0318},
        {"s":"Sharpness","g":2,"x":0.46,"y":0.023},{"s":"Sharpness","g":2,"x":0.47,"y":0.0182},{"s":"Sharpness","g":2,"x":0.48,"y":0.016},
        {"s":"Sharpness","g":2,"x":0.49,"y":0.0148},{"s":"Sharpness","g":2,"x":0.5,"y":0.014},{"s":"Sharpness","g":2,"x":0.51,"y":0.0132},
        {"s":"Sharpness","g":2,"x":0.52,"y":0.0125},{"s":"Sharpness","g":2,"x":0.53,"y":0.0118},{"s":"Sharpness","g":2,"x":0.54,"y":0.0112},
        {"s":"Sharpness","g":2,"x":0.55,"y":0.0106},{"s":"Sharpness","g":2,"x":0.56,"y":0.01},{"s":"Sharpness","g":2,"x":0.57,"y":0.0095},
        {"s":"Sharpness","g":2,"x":0.58,"y":0.009},{"s":"Sharpness","g":2,"x":0.59,"y":0.0086},{"s":"Sharpness","g":2,"x":0.6,"y":0.0082},
        {"s":"Sharpness","g":2,"x":0.61,"y":0.0078},{"s":"Sharpness","g":2,"x":0.62,"y":0.0074},{"s":"Sharpness","g":2,"x":0.63,"y":0.007},
        {"s":"Sharpness","g":2,"x":0.64,"y":0.0067},{"s":"Sharpness","g":2,"x":0.65,"y":0.0063},{"s":"Sharpness","g":2,"x":0.66,"y":0.0059},
        {"s":"Sharpness","g":2,"x":0.67,"y":0.0056},{"s":"Sharpness","g":2,"x":0.68,"y":0.0052},{"s":"Sharpness","g":2,"x":0.69,"y":0.0049},
        {"s":"Sharpness","g":2,"x":0.7,"y":0.0046},{"s":"Sharpness","g":2,"x":0.71,"y":0.0043},{"s":"Sharpness","g":2,"x":0.72,"y":0.004},
        {"s":"Sharpness","g":2,"x":0.73,"y":0.0037},{"s":"Sharpness","g":2,"x":0.74,"y":0.0034},{"s":"Sharpness","g":2,"x":0.75,"y":0.0031},
        {"s":"Sharpness","g":2,"x":0.76,"y":0.0029},{"s":"Sharpness","g":2,"x":0.77,"y":0.0027},{"s":"Sharpness","g":2,"x":0.78,"y":0.0025},
        {"s":"Sharpness","g":2,"x":0.79,"y":0.0023},{"s":"Sharpness","g":2,"x":0.8,"y":0.0021},{"s":"Sharpness","g":2,"x":0.81,"y":0.0019},
        {"s":"Sharpness","g":2,"x":0.82,"y":0.0018},{"s":"Sharpness","g":2,"x":0.83,"y":0.0016},{"s":"Sharpness","g":2,"x":0.84,"y":0.0015},
        {"s":"Sharpness","g":2,"x":0.85,"y":0.0014},{"s":"Sharpness","g":2,"x":0.86,"y":0.0013},{"s":"Sharpness","g":2,"x":0.87,"y":0.0012},
        {"s":"Sharpness","g":2,"x":0.88,"y":0.0011},{"s":"Sharpness","g":2,"x":0.89,"y":0.001},{"s":"Sharpness","g":2,"x":0.9,"y":0.0009},
        {"s":"Sharpness","g":2,"x":0.91,"y":0.0009},{"s":"Sharpness","g":2,"x":0.92,"y":0.0008},{"s":"Sharpness","g":2,"x":0.93,"y":0.0008},
        {"s":"Sharpness","g":2,"x":0.94,"y":0.0007},{"s":"Sharpness","g":2,"x":0.95,"y":0.0007},{"s":"Sharpness","g":2,"x":0.96,"y":0.0006},
        {"s":"Sharpness","g":2,"x":0.97,"y":0.0006},{"s":"Sharpness","g":2,"x":0.98,"y":0.0005},{"s":"Sharpness","g":2,"x":0.99,"y":0.0005},
        {"s":"Sharpness","g":2,"x":1,"y":0}
      ]},
      "layer": [
        {
          "mark": {"type": "line", "interpolate": "step-after", "strokeWidth": 2, "strokeJoin": "miter"},
          "encoding": {
            "x": {
              "field": "x", "type": "quantitative",
              "scale": {"domain": [-0.5227, 1.0264], "range": [91.7, 385.3], "nice": false, "zero": false},
              "axis": {
                "orient": "bottom", "values": [-0.5, 0, 0.5, 1],
                "labelExpr": "datum.value == 0 ? '0' : (datum.value < 0 ? '-' : '') + format(abs(datum.value), '.1f')",
                "offset": -68.3, "labelPadding": 13.3,
                "title": "Simulated Sources", "titlePadding": 10
              }
            },
            "y": {
              "field": "y", "type": "quantitative",
              "scale": {"domain": [0, 0.2307], "range": [343.7, 28.3], "nice": false},
              "axis": {
                "orient": "left", "values": [0, 0.05, 0.1, 0.15, 0.2],
                "labelExpr": "datum.value == 0 ? '0' : format(datum.value, '.2f')",
                "offset": -91.7, "labelPadding": 7.3, "labelOffset": 2.5, "title": null
              }
            },
            "color": {
              "field": "s", "type": "nominal",
              "scale": {"domain": ["Roundness", "Sharpness"], "range": ["#e00000", "#0000cc"]},
              "legend": {"title": " ", "labelExpr": "datum.label + ' '", "encoding": {"labels": {"dy": {"value": 6.3}}}}
            },
            "detail": {"field": "g", "type": "nominal"}
          }
        },
        {
          "data": {"values": [{"v": -0.5}, {"v": 0}, {"v": 0.5}, {"v": 1}]},
          "mark": {"type": "rule", "color": "#cccccc", "strokeWidth": 1.3},
          "encoding": {
            "x": {"field": "v", "type": "quantitative", "axis": {
              "orient": "bottom", "offset": -68.3, "labels": false, "title": null,
              "values": [-0.5,-0.4,-0.3,-0.2,-0.1,0,0.1,0.2,0.3,0.4,0.5,0.6,0.7,0.8,0.9,1]}},
            "y": {"datum": 0, "type": "quantitative", "axis": null},
            "y2": {"datum": 0.2307}
          }
        },
        {
          "data": {"values": [{"v": 0.05}, {"v": 0.1}, {"v": 0.15}, {"v": 0.2}]},
          "mark": {"type": "rule", "color": "#cccccc", "strokeWidth": 1.3},
          "encoding": {
            "y": {"field": "v", "type": "quantitative", "axis": {
              "orient": "left", "offset": -91.7, "labels": false, "title": null,
              "values": [0,0.01,0.02,0.03,0.04,0.05,0.06,0.07,0.08,0.09,0.1,0.11,0.12,0.13,0.14,0.15,0.16,0.17,0.18,0.19,0.2,0.21,0.22,0.23]}},
            "x": {"datum": -0.5227, "type": "quantitative", "axis": null},
            "x2": {"datum": 1.0264}
          }
        },
        {
          "data": {"values": [{}]},
          "mark": {"type": "rect", "filled": false, "color": "#7a7a7a", "strokeWidth": 1.2},
          "encoding": {
            "x": {"datum": -0.5227, "type": "quantitative", "axis": null},
            "x2": {"datum": 1.0264},
            "y": {"datum": 0, "type": "quantitative", "axis": null},
            "y2": {"datum": 0.2307}
          }
        }
      ]
    }
  ]
}
